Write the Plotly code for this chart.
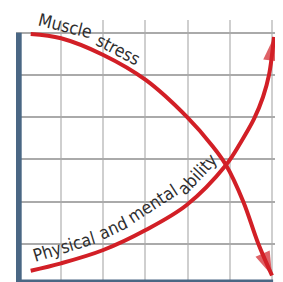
import plotly.graph_objects as go

# Data in grid units (x: 0..6 left->right, y: 0..6 bottom->top)
stress_x = [0.284, 1.001, 2.002, 3.005, 3.975, 4.598, 4.905, 5.315, 5.663, 5.994]
stress_y = [5.969, 5.867, 5.472, 4.881, 4.012, 3.302, 2.869, 2.001, 1.024, 0.255]

ability_x = [0.284, 1.001, 2.002, 3.005, 3.975, 4.905, 5.260, 5.568, 5.781, 5.923, 6.041]
ability_y = [0.368, 0.543, 0.858, 1.331, 1.923, 2.869, 3.414, 3.958, 4.478, 4.999, 5.898]

grid_ticks = [1, 2, 3, 4, 5, 6]

# Labels: words placed along the curves (x, y, angle)
stress_words = ["Muscle", "stress"]
stress_word_x = [1.10, 2.37]
stress_word_y = [6.16, 5.60]
stress_word_ang = [14, 27]

ability_words = ["Physical", "and", "mental", "ability"]
ability_word_x = [1.07, 2.24, 3.16, 4.23]
ability_word_y = [0.93, 1.39, 1.95, 2.66]
ability_word_ang = [-17, -25, -33, -47]

RED = "#d21f26"
BAR = "#4a6784"
TXT = "#2e2e2e"
FONT = "DejaVu Sans Condensed, sans-serif"

fig = go.Figure()
for xs, ys in [(stress_x, stress_y), (ability_x, ability_y)]:
    n = len(xs)
    fig.add_trace(go.Scatter(
        x=xs, y=ys, mode="lines+markers", cliponaxis=False,
        line=dict(color=RED, width=4, shape="spline", smoothing=1),
        marker=dict(symbol="arrow", size=[0] * (n - 1) + [25], angleref="previous",
                    color=RED, line=dict(width=0)),
        hoverinfo="skip", showlegend=False,
    ))

annotations = []
for words, wx, wy, wa in [(stress_words, stress_word_x, stress_word_y, stress_word_ang),
                          (ability_words, ability_word_x, ability_word_y, ability_word_ang)]:
    for w, x, y, a in zip(words, wx, wy, wa):
        annotations.append(dict(x=x, y=y, xref="x", yref="y", text=w, showarrow=False,
                                textangle=a, font=dict(family=FONT, size=17.5, color=TXT)))

shapes = [
    dict(type="line", xref="x", yref="y", x0=0, x1=0, y0=0, y1=6,
         line=dict(color=BAR, width=6), layer="above"),
    dict(type="rect", xref="x", yref="paper", x0=-0.07, x1=6.02, y0=0, y1=0.0095,
         fillcolor=BAR, line=dict(width=0), layer="above"),
]

# The page body has an 8px margin, so the figure is 275x274 with reduced margins
fig.update_layout(
    width=275, height=274,
    margin=dict(l=8, r=0, t=12, b=0),
    paper_bgcolor="white", plot_bgcolor="white",
    xaxis=dict(range=[-0.064, 6.254], tickvals=grid_ticks, showticklabels=False,
               showgrid=True, gridcolor="#cfcfcf", gridwidth=2, zeroline=False,
               showline=False, fixedrange=True),
    yaxis=dict(range=[0.1007, 6.30], tickvals=grid_ticks, showticklabels=False,
               showgrid=True, gridcolor="#aaaaaa", gridwidth=1.5, zeroline=False,
               showline=False, fixedrange=True),
    annotations=annotations,
    shapes=shapes,
)

fig.write_html("out.html")
